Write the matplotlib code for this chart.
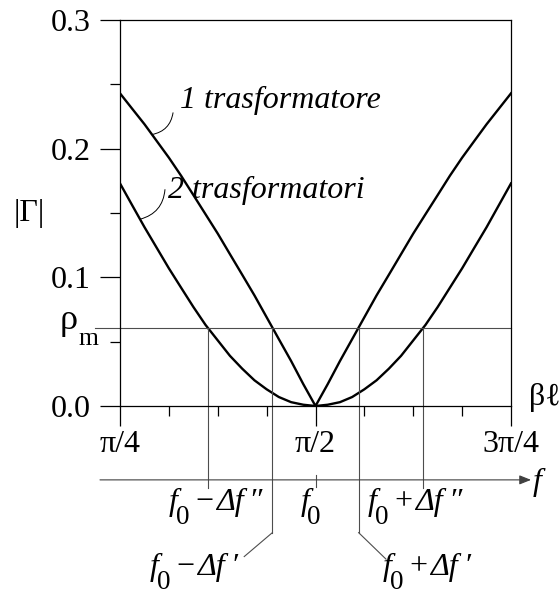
import numpy as np
import matplotlib
matplotlib.use("Agg")
import matplotlib.pyplot as plt
from matplotlib.transforms import Affine2D

FAM = 'Liberation Serif'
plt.rcParams['font.family'] = FAM

# electrical length beta*l, in units of pi
beta_l = [0.2500, 0.2656, 0.2813, 0.2969, 0.3125, 0.3281, 0.3438, 0.3594,
          0.3750, 0.3906, 0.4063, 0.4219, 0.4375, 0.4531, 0.4688, 0.4844,
          0.5000, 0.5156, 0.5313, 0.5469, 0.5625, 0.5781, 0.5938, 0.6094,
          0.6250, 0.6406, 0.6563, 0.6719, 0.6875, 0.7031, 0.7188, 0.7344,
          0.7500]

# |Gamma| with one quarter-wave transformer
gamma_1 = [0.243, 0.231, 0.219, 0.206, 0.193, 0.179, 0.164, 0.149,
           0.134, 0.118, 0.102, 0.086, 0.069, 0.052, 0.035, 0.017,
           0.000, 0.017, 0.035, 0.052, 0.069, 0.086, 0.102, 0.118,
           0.134, 0.149, 0.164, 0.179, 0.193, 0.206, 0.219, 0.231,
           0.243]

# |Gamma| with two transformers (binomial)
gamma_2 = [0.173, 0.156, 0.139, 0.123, 0.107, 0.092, 0.077, 0.063,
           0.051, 0.039, 0.029, 0.020, 0.013, 0.007, 0.003, 0.001,
           0.000, 0.001, 0.003, 0.007, 0.013, 0.020, 0.029, 0.039,
           0.051, 0.063, 0.077, 0.092, 0.107, 0.123, 0.139, 0.156,
           0.173]

rho_m = 0.061

x_ticks = [0.25, 0.5, 0.75]
x_tick_labels = ['π/4', 'π/2', '3π/4']
y_ticks = [0.0, 0.1, 0.2, 0.3]
y_tick_labels = ['0.0', '0.1', '0.2', '0.3']

curve_labels = ['1 trasformatore', '2 trasformatori']

FS = 23

fig = plt.figure(figsize=(5.6, 5.97), dpi=100)
ax = fig.add_axes([0.2143, 0.3199, 0.6982, 0.6466])

ax.plot(beta_l, gamma_1, color='black', lw=1.7)
ax.plot(beta_l, gamma_2, color='black', lw=1.7)

ax.set_xlim(0.25, 0.75)
ax.set_ylim(0.0, 0.3)
ax.set_xticks(x_ticks)
ax.set_xticklabels(x_tick_labels, family=FAM)
ax.set_yticks(y_ticks)
ax.set_yticklabels(y_tick_labels, family=FAM)
ax.set_xticks(np.arange(0.25, 0.7501, 1 / 16), minor=True)
ax.set_yticks([0.05, 0.15, 0.25], minor=True)
ax.tick_params(which='major', direction='out', length=14.4, width=0.9,
               labelsize=FS, color='black')
ax.tick_params(axis='x', which='major', pad=3)
ax.tick_params(axis='y', which='major', pad=7)
ax.tick_params(which='minor', direction='out', length=7, width=0.9)
for s in ax.spines.values():
    s.set_linewidth(0.9)

# crossings of each curve with rho_m
b = np.array(beta_l)
g1 = np.array(gamma_1)
g2 = np.array(gamma_2)
half = len(b) // 2
x1_lo = np.interp(rho_m, g1[:half + 1][::-1], b[:half + 1][::-1])
x1_hi = np.interp(rho_m, g1[half:], b[half:])
x2_lo = np.interp(rho_m, g2[:half + 1][::-1], b[:half + 1][::-1])
x2_hi = np.interp(rho_m, g2[half:], b[half:])

guide = dict(color='0.3', lw=0.8, clip_on=False)
ax.plot([0.218, 0.75], [rho_m, rho_m], **guide)

y_faxis = -0.0574
y_short = -0.0636
y_long = -0.0984
for xc in (x2_lo, x2_hi):
    ax.plot([xc, xc], [rho_m, y_short], **guide)
for xc in (x1_lo, x1_hi):
    ax.plot([xc, xc], [rho_m, y_long], **guide)
ax.plot([x1_lo, x1_lo - 0.036], [y_long, -0.117], **guide)
ax.plot([x1_hi, x1_hi + 0.035], [y_long, -0.119], **guide)
ax.plot([0.5, 0.5], [-0.0535, -0.0628], **guide)

# frequency axis with arrow
ax.annotate('', xy=(0.7756, y_faxis), xytext=(0.2244, y_faxis),
            xycoords='data', annotation_clip=False,
            arrowprops=dict(arrowstyle='-|>,head_length=0.7,head_width=0.28',
                            color='0.25', lw=0.8, shrinkA=0, shrinkB=0))
ax.text(0.778, -0.0651, 'f', fontsize=FS, style='italic', family=FAM,
        ha='left', va='baseline', clip_on=False)

ax.text(0.7735, 0.0065, 'βℓ', fontsize=FS, family=FAM, ha='left',
        va='center', clip_on=False)

ax.text(-0.233, 0.5, '|Γ|', fontsize=FS, family=FAM,
        transform=ax.transAxes, ha='center', va='center')

renderer = fig.canvas.get_renderer()


def compose(x, y, pieces, ha='left'):
    """Draw a label made of runs (text, style, size, dy_px, gap_px)."""
    widths = []
    for s, st, sz, dy, gap in pieces:
        t = ax.text(0, 0, s, fontsize=sz, style=st, family=FAM)
        widths.append(t.get_window_extent(renderer).width)
        t.remove()
    total = sum(widths) + sum(p[4] for p in pieces)
    off = {'left': 0.0, 'right': -total, 'center': -total / 2}[ha]
    for (s, st, sz, dy, gap), w in zip(pieces, widths):
        off += gap
        tr = ax.transData + Affine2D().translate(off, dy)
        ax.text(x, y, s, fontsize=sz, style=st, family=FAM, transform=tr,
                ha='left', va='baseline', clip_on=False)
        off += w


SUB = 0.85 * FS


def f_label(sign, primes):
    return [('f', 'italic', FS, 0, 0),
            ('0', 'normal', SUB, -14, -2),
            (sign, 'normal', FS, 0, 6),
            ('Δf', 'italic', FS, 0, 3),
            (primes, 'italic', FS, 0, 5)]


compose(0.1955, 0.0597, [('ρ', 'normal', FS + 3, 0, 0)], ha='right')
compose(0.1965, 0.0473, [('m', 'normal', 0.8 * FS, 0, 0)], ha='left')

compose(0.4316, -0.0806, f_label('−', '″'), ha='right')
compose(0.4936, -0.0806, [('f', 'italic', FS, 0, 0),
                          ('0', 'normal', SUB, -14, -2)], ha='center')
compose(0.5671, -0.0806, f_label('+', '″'), ha='left')
compose(0.3996, -0.1310, f_label('−', '′'), ha='right')
compose(0.5863, -0.1310, f_label('+', '′'), ha='left')

# curve labels with leader lines
ax.text(0.3267, 0.2318, curve_labels[0], fontsize=FS, style='italic',
        family=FAM, ha='left', va='baseline')
ax.text(0.3114, 0.162, curve_labels[1], fontsize=FS, style='italic',
        family=FAM, ha='left', va='baseline')
xa, xb = 0.2909, 0.2756
ax.annotate('', xy=(xa, np.interp(xa, b, g1)), xytext=(0.3178, 0.2279),
            arrowprops=dict(arrowstyle='-', lw=0.7, color='black',
                            shrinkA=0, shrinkB=0,
                            connectionstyle='arc3,rad=-0.35'))
ax.annotate('', xy=(xb, np.interp(xb, b, g2)), xytext=(0.3075, 0.1682),
            arrowprops=dict(arrowstyle='-', lw=0.7, color='black',
                            shrinkA=0, shrinkB=0,
                            connectionstyle='arc3,rad=-0.35'))

fig.savefig('out.png', dpi=100)
